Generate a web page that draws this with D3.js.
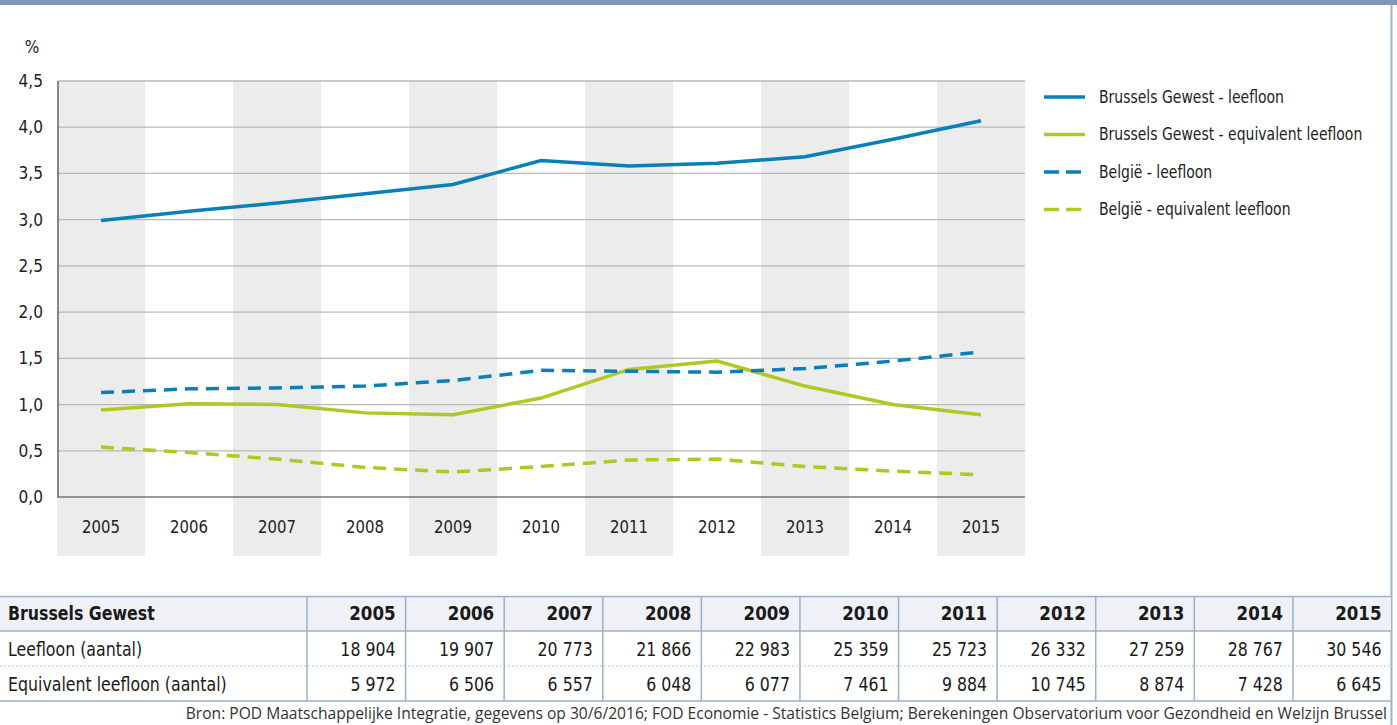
<!DOCTYPE html>
<html>
<head>
<meta charset="utf-8">
<script src="https://cdn.jsdelivr.net/npm/d3@7"></script>
<style>
  body { margin: 0; background: #fff; }
  svg { display: block; }
  .narrow { font-family: "Liberation Sans Narrow", "DejaVu Sans Condensed", "Roboto Condensed", sans-serif; }
</style>
</head>
<body>
<svg id="chart" width="1397" height="725"></svg>
<script>
// Data
const years = ['2005','2006','2007','2008','2009','2010','2011','2012','2013','2014','2015']
const brusselsLeefloon = [2.99, 3.09, 3.18, 3.28, 3.38, 3.64, 3.58, 3.61, 3.68, 3.87, 4.07]
const brusselsEquiv = [0.94, 1.01, 1.00, 0.91, 0.89, 1.07, 1.38, 1.47, 1.20, 1.00, 0.89]
const belgieLeefloon = [1.13, 1.17, 1.18, 1.20, 1.26, 1.37, 1.36, 1.35, 1.39, 1.47, 1.57]
const belgieEquiv = [0.54, 0.48, 0.41, 0.32, 0.27, 0.33, 0.40, 0.41, 0.33, 0.28, 0.24]
const yTicks = [0, 0.5, 1, 1.5, 2, 2.5, 3, 3.5, 4, 4.5]

// table values
const tableYears = years
const leefloonAantal = ['18 904','19 907','20 773','21 866','22 983','25 359','25 723','26 332','27 259','28 767','30 546']
const equivAantal = ['5 972','6 506','6 557','6 048','6 077','7 461','9 884','10 745','8 874','7 428','6 645']

const blue = '#0a7fb8'
const green = '#b3c622'

const series = [
  {name: 'Brussels Gewest - leefloon', values: brusselsLeefloon, color: blue, dash: null},
  {name: 'Brussels Gewest - equivalent leefloon', values: brusselsEquiv, color: green, dash: null},
  {name: 'België - leefloon', values: belgieLeefloon, color: blue, dash: '13,8'},
  {name: 'België - equivalent leefloon', values: belgieEquiv, color: green, dash: '13,8'}
]

// squeeze text horizontally around its anchor x, the original uses a condensed face
function condense(sel, k) {
  sel.each(function() {
    const x0 = +this.getAttribute('x')
    d3.select(this).attr('transform', `translate(${x0},0) scale(${k},1) translate(${-x0},0)`)
  })
}

const svg = d3.select('#chart')

// frame: top band and right border
svg.append('rect').attr('x',0).attr('y',0).attr('width',1397).attr('height',5).attr('fill','#7f97b8')
svg.append('line').attr('x1',1391.5).attr('x2',1391.5).attr('y1',5).attr('y2',725)
  .attr('stroke','#9db0ca').attr('stroke-width',2)

// scales
const x = d3.scaleBand().domain(years).range([57, 1025]).padding(0)
const y = d3.scaleLinear().domain([0, 4.5]).range([497, 81])

// alternating column bands
svg.append('g').selectAll('rect')
  .data(years.filter((d,i) => i % 2 === 0))
  .enter().append('rect')
  .attr('x', d => x(d))
  .attr('y', y(4.5))
  .attr('width', x.bandwidth())
  .attr('height', 556 - y(4.5))
  .attr('fill', '#ebeceb')

// gridlines
svg.append('g').selectAll('line')
  .data(yTicks.filter(d => d > 0))
  .enter().append('line')
  .attr('x1', 58).attr('x2', 1025)
  .attr('y1', d => y(d)).attr('y2', d => y(d))
  .attr('stroke', '#b8b8b8').attr('stroke-width', 1.3)

// axes lines
svg.append('line').attr('x1',58).attr('x2',58).attr('y1',y(4.5)).attr('y2',y(0))
  .attr('stroke','#666').attr('stroke-width',1.5)
svg.append('line').attr('x1',57).attr('x2',1025).attr('y1',y(0)).attr('y2',y(0))
  .attr('stroke','#777').attr('stroke-width',1.5)

// y labels
svg.append('g').attr('class','narrow').selectAll('text')
  .data(yTicks)
  .enter().append('text')
  .attr('x', 43)
  .attr('y', d => y(d) + 6)
  .attr('text-anchor','end')
  .attr('font-size', 18)
  .attr('fill', '#222')
  .text(d => d3.format('.1f')(d).replace('.', ','))
  .call(condense, 0.95)

svg.append('text').attr('class','narrow')
  .attr('x', 32).attr('y', 53).attr('text-anchor','middle')
  .attr('font-size', 17).attr('fill','#222').text('%')

// x labels
svg.append('g').attr('class','narrow').selectAll('text')
  .data(years)
  .enter().append('text')
  .attr('x', d => x(d) + x.bandwidth()/2)
  .attr('y', 533)
  .attr('text-anchor','middle')
  .attr('font-size', 18)
  .attr('fill', '#222')
  .text(d => d)
  .call(condense, 0.92)

// lines
const line = d3.line()
  .x((d,i) => x(years[i]) + x.bandwidth()/2)
  .y(d => y(d))

series.forEach(s => {
  svg.append('path')
    .attr('d', line(s.values))
    .attr('fill','none')
    .attr('stroke', s.color)
    .attr('stroke-width', 3.5)
    .attr('stroke-dasharray', s.dash)
})

// legend
const legend = svg.append('g').attr('class','narrow')
series.forEach((s, i) => {
  const ly = 97 + i * 37.5
  legend.append('line')
    .attr('x1', 1044).attr('x2', 1085)
    .attr('y1', ly).attr('y2', ly)
    .attr('stroke', s.color).attr('stroke-width', 3.5)
    .attr('stroke-dasharray', s.dash ? '15,7' : null)
  legend.append('text')
    .attr('x', 1099).attr('y', ly + 6)
    .attr('font-size', 18.5).attr('fill','#222')
    .text(s.name)
    .call(condense, 0.84)
})

// table
const tbl = svg.append('g').attr('class','narrow')
const colStart = 307, colW = (1391.5 - 307) / 11
const rowTop = [596.5, 631, 666, 701]

tbl.append('rect').attr('x',0).attr('y',rowTop[0]).attr('width',1391).attr('height',rowTop[1]-rowTop[0])
  .attr('fill','#eff1f6')

// horizontal rules
tbl.append('line').attr('x1',0).attr('x2',1392).attr('y1',rowTop[0]).attr('y2',rowTop[0]).attr('stroke','#9db0ca').attr('stroke-width',1.5)
tbl.append('line').attr('x1',0).attr('x2',1392).attr('y1',rowTop[1]).attr('y2',rowTop[1]).attr('stroke','#9db0ca').attr('stroke-width',1.5)
tbl.append('line').attr('x1',0).attr('x2',1392).attr('y1',rowTop[2]).attr('y2',rowTop[2]).attr('stroke','#9db0ca').attr('stroke-width',1.2).attr('stroke-dasharray','1.5,2.5')
tbl.append('line').attr('x1',0).attr('x2',1392).attr('y1',rowTop[3]).attr('y2',rowTop[3]).attr('stroke','#9db0ca').attr('stroke-width',1.5)

// vertical rules
tbl.selectAll('line.v')
  .data(d3.range(11))
  .enter().append('line')
  .attr('x1', i => colStart + i*colW).attr('x2', i => colStart + i*colW)
  .attr('y1', rowTop[0]).attr('y2', rowTop[3])
  .attr('stroke','#9db0ca').attr('stroke-width',1.5)

tbl.append('text').attr('x',8).attr('y',rowTop[0]+24).attr('font-size',19.5).attr('font-weight','bold')
  .attr('fill','#1a1a1a').text('Brussels Gewest').call(condense, 0.9)
tbl.append('text').attr('x',8).attr('y',rowTop[1]+25).attr('font-size',19.5)
  .attr('fill','#1a1a1a').text('Leefloon (aantal)').call(condense, 0.9)
tbl.append('text').attr('x',8).attr('y',rowTop[2]+25).attr('font-size',19.5)
  .attr('fill','#1a1a1a').text('Equivalent leefloon (aantal)').call(condense, 0.9)

tableYears.forEach((yr, i) => {
  const xr = colStart + (i+1)*colW - 10
  tbl.append('text').attr('x',xr).attr('y',rowTop[0]+24).attr('text-anchor','end')
    .attr('font-size',19.5).attr('font-weight','bold').attr('fill','#1a1a1a').text(yr).call(condense, 0.95)
  tbl.append('text').attr('x',xr).attr('y',rowTop[1]+25).attr('text-anchor','end')
    .attr('font-size',19.5).attr('fill','#1a1a1a').text(leefloonAantal[i]).call(condense, 0.9)
  tbl.append('text').attr('x',xr).attr('y',rowTop[2]+25).attr('text-anchor','end')
    .attr('font-size',19.5).attr('fill','#1a1a1a').text(equivAantal[i]).call(condense, 0.9)
})

// source
svg.append('text')
  .attr('x', 1387).attr('y', 719)
  .attr('text-anchor','end')
  .attr('font-family','"Open Sans", "Noto Sans", sans-serif')
  .attr('font-size', 15.6)
  .attr('fill','#333')
  .text('Bron: POD Maatschappelijke Integratie, gegevens op 30/6/2016; FOD Economie - Statistics Belgium; Berekeningen Observatorium voor Gezondheid en Welzijn Brussel')
</script>
</body>
</html>
